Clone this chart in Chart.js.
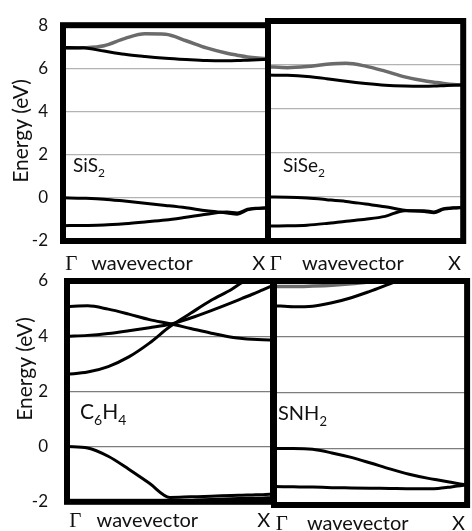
<!DOCTYPE html>
<html>
<head>
<meta charset="utf-8">
<script src="https://cdn.jsdelivr.net/npm/chart.js@4.4.1/dist/chart.umd.min.js"></script>
<style>
  html, body { margin: 0; padding: 0; background: #fff; }
  #wrap { position: relative; width: 472px; height: 531px; overflow: hidden; }
  #wrap canvas { position: absolute; left: 0; top: 0; }
</style>
</head>
<body>
<div id="wrap">
  <canvas id="sis2" width="472" height="531"></canvas>
  <canvas id="sise2" width="472" height="531"></canvas>
  <canvas id="c6h4" width="472" height="531"></canvas>
  <canvas id="snh2" width="472" height="531"></canvas>
</div>
<script>
// wavevector sample points, Γ = 0 ... X = 1
const kPoints = [0, 0.1, 0.2, 0.3, 0.4, 0.5, 0.6, 0.7, 0.8, 0.85, 0.9, 0.95, 1];
const xTickLabels = ["Γ", "wavevector", "X"];
const yTitle = "Energy (eV)";

// SiS2
const sis2Cond1 = [6.97, 6.95, 6.8, 6.65, 6.55, 6.47, 6.41, 6.36, 6.35, 6.36, 6.38, 6.4, 6.42];
const sis2Cond2 = [6.93, 6.95, 7.05, 7.38, 7.6, 7.58, 7.28, 6.95, 6.7, 6.61, 6.53, 6.48, 6.45];
const sis2Val1 = [0, -0.02, -0.06, -0.15, -0.25, -0.35, -0.46, -0.6, -0.7, -0.76, -0.56, -0.49, -0.47];
const sis2Val2 = [-1.29, -1.28, -1.26, -1.2, -1.12, -1.03, -0.9, -0.76, -0.66, -0.7, -0.53, -0.48, -0.46];

// SiSe2
const sise2Cond1 = [5.54, 5.53, 5.48, 5.38, 5.26, 5.16, 5.08, 5.04, 5.03, 5.04, 5.06, 5.08, 5.09];
const sise2Cond2 = [5.92, 5.88, 5.93, 6.03, 6.08, 5.95, 5.72, 5.46, 5.28, 5.22, 5.16, 5.11, 5.08];
const sise2Val1 = [0, -0.01, -0.05, -0.12, -0.2, -0.32, -0.44, -0.6, -0.66, -0.72, -0.55, -0.5, -0.48];
const sise2Val2 = [-1.32, -1.31, -1.28, -1.2, -1.1, -1.01, -0.88, -0.62, -0.62, -0.68, -0.53, -0.49, -0.47];

// C6H4
const c6h4Cond1 = [5.08, 5.1, 4.98, 4.8, 4.6, 4.45, 4.28, 4.11, 3.96, 3.92, 3.89, 3.87, 3.86];
const c6h4Cond2 = [4.0, 4.03, 4.1, 4.2, 4.31, 4.43, 4.66, 4.93, 5.22, 5.37, 5.52, 5.68, 5.84];
const c6h4Cond3 = [2.62, 2.7, 2.9, 3.25, 3.75, 4.35, 4.83, 5.3, 5.7, 5.95, 6.15, 6.35, 6.55];
const c6h4Val1 = [0, -0.05, -0.35, -0.82, -1.33, -1.84, -1.82, -1.8, -1.77, -1.76, -1.75, -1.74, -1.72];
const c6h4Val2 = [-2.6, -2.55, -2.45, -2.3, -2.15, -2.02, -1.96, -1.92, -1.89, -1.88, -1.87, -1.86, -1.85];

// SNH2
const snh2Cond1 = [5.12, 5.08, 5.1, 5.22, 5.4, 5.64, 5.9, 6.15, 6.45, 6.6, 6.75, 6.9, 7.05];
const snh2Cond2 = [5.8, 5.8, 5.82, 5.85, 5.9, 5.97, 6.05, 6.12, 6.2, 6.24, 6.28, 6.32, 6.36];
const snh2Val1 = [0.02, 0.02, -0.01, -0.14, -0.3, -0.5, -0.71, -0.9, -1.05, -1.11, -1.17, -1.23, -1.28];
const snh2Val2 = [-1.34, -1.35, -1.36, -1.38, -1.39, -1.4, -1.41, -1.42, -1.42, -1.41, -1.37, -1.32, -1.28];

const BLACK = "#000000";
const GREY = "#6b6b6b";

// border, panel name and y title drawn on top of the plot
const panelDeco = {
  id: "panelDeco",
  afterDatasetsDraw(chart, args, opts) {
    const { ctx, chartArea: a } = chart;
    ctx.save();
    ctx.strokeStyle = "#000";
    ctx.lineWidth = 6;
    ctx.strokeRect(a.left, a.top, a.right - a.left, a.bottom - a.top);

    ctx.fillStyle = "#111";
    ctx.textBaseline = "alphabetic";
    ctx.textAlign = "left";
    let x = a.left + opts.labelDx;
    const y = opts.labelY;
    opts.label.split(/(_\d)/).forEach((part) => {
      if (!part) return;
      if (part[0] === "_") {
        ctx.font = Math.round(opts.labelSize * 0.65) + "px Lato";
        ctx.fillText(part.slice(1), x, y + opts.labelSize * 0.28);
        x += ctx.measureText(part.slice(1)).width;
      } else {
        ctx.font = opts.labelSize + "px Lato";
        ctx.fillText(part, x, y);
        x += ctx.measureText(part).width;
      }
    });

    if (opts.yTitle) {
      ctx.translate(opts.yTitleX, opts.yTitleY);
      ctx.rotate(-Math.PI / 2);
      ctx.textAlign = "center";
      ctx.textBaseline = "middle";
      ctx.font = "21px Lato";
      ctx.fillText(opts.yTitle, 0, 0);
    }
    ctx.restore();
  },
};

function line(data, color) {
  return {
    data: kPoints.map((k, i) => ({ x: k, y: data[i] })),
    borderColor: color,
    borderWidth: color === GREY ? 3.5 : 3,
    pointRadius: 0,
    fill: false,
    cubicInterpolationMode: "monotone",
  };
}

function makePanel(id, p) {
  new Chart(document.getElementById(id), {
    type: "line",
    data: { datasets: p.series.map((s) => line(s[0], s[1])) },
    plugins: [panelDeco],
    options: {
      responsive: false,
      animation: false,
      layout: {
        padding: {
          left: p.showY ? 0 : p.area.l,
          top: p.area.t,
          right: 472 - p.area.r,
          bottom: 531 - p.area.b - p.xHeight,
        },
      },
      plugins: {
        legend: { display: false },
        tooltip: { enabled: false },
        panelDeco: {
          label: p.label,
          labelDx: p.labelDx,
          labelY: p.labelY,
          labelSize: p.labelSize,
          yTitle: p.showY ? yTitle : null,
          yTitleX: p.yTitleX,
          yTitleY: p.yTitleY,
        },
      },
      scales: {
        x: {
          type: "linear",
          min: 0,
          max: 1,
          afterFit: (s) => { s.height = p.xHeight; },
          afterBuildTicks: (s) => { s.ticks = p.xTickPos.map((v) => ({ value: v })); },
          grid: { display: false, drawTicks: false },
          border: { display: false },
          ticks: {
            autoSkip: false,
            maxRotation: 0,
            padding: p.xPad,
            color: "#111",
            callback: (v, i) => xTickLabels[i],
            font: (c) => c.index === 0
              ? { family: "Liberation Serif", size: 21 }
              : { family: "Lato", size: 20 },
          },
        },
        y: {
          min: -2,
          max: p.yMax,
          afterFit: (s) => { s.width = p.showY ? p.area.l : 0; },
          grid: { color: p.gridColor, lineWidth: 1.2, drawTicks: false },
          border: { display: false },
          ticks: {
            display: p.showY,
            stepSize: 2,
            padding: p.tickPad,
            color: "#111",
            font: { family: "Lato", size: 17 },
          },
        },
      },
    },
  });
}

makePanel("sis2", {
  area: { l: 63, t: 21, r: 268, b: 241 },
  showY: true, tickPad: 15, yMax: 8, gridColor: "#b3b3b3", xPad: 11, xHeight: 36,
  xTickPos: [0.04, 0.385, 0.955],
  label: "SiS_2", labelDx: 10, labelY: 172, labelSize: 19,
  yTitleX: 21, yTitleY: 131,
  series: [[sis2Cond1, BLACK], [sis2Cond2, GREY], [sis2Val1, BLACK], [sis2Val2, BLACK]],
});
makePanel("sise2", {
  area: { l: 268, t: 21, r: 470, b: 241 },
  showY: false, tickPad: 0, yMax: 8, gridColor: "#b3b3b3", xPad: 11, xHeight: 36,
  xTickPos: [0.04, 0.435, 0.955],
  label: "SiSe_2", labelDx: 15, labelY: 172, labelSize: 19,
  series: [[sise2Cond1, BLACK], [sise2Cond2, GREY], [sise2Val1, BLACK], [sise2Val2, BLACK]],
});
makePanel("c6h4", {
  area: { l: 67, t: 281, r: 273, b: 505 },
  showY: true, tickPad: 19, yMax: 6, gridColor: "#7d7d7d", xPad: 7, xHeight: 26,
  xTickPos: [0.04, 0.39, 0.955],
  label: "C_6H_4", labelDx: 13, labelY: 419, labelSize: 21,
  yTitleX: 25, yTitleY: 369,
  series: [[c6h4Cond1, BLACK], [c6h4Cond2, BLACK], [c6h4Cond3, BLACK], [c6h4Val1, BLACK], [c6h4Val2, BLACK]],
});
makePanel("snh2", {
  area: { l: 274, t: 281, r: 470, b: 505 },
  showY: false, tickPad: 0, yMax: 6, gridColor: "#7d7d7d", xPad: 7, xHeight: 26,
  xTickPos: [0.04, 0.434, 0.955],
  label: "SNH_2", labelDx: 4, labelY: 420, labelSize: 20,
  series: [[snh2Cond2, GREY], [snh2Cond1, BLACK], [snh2Val1, BLACK], [snh2Val2, BLACK]],
});
</script>
</body>
</html>
